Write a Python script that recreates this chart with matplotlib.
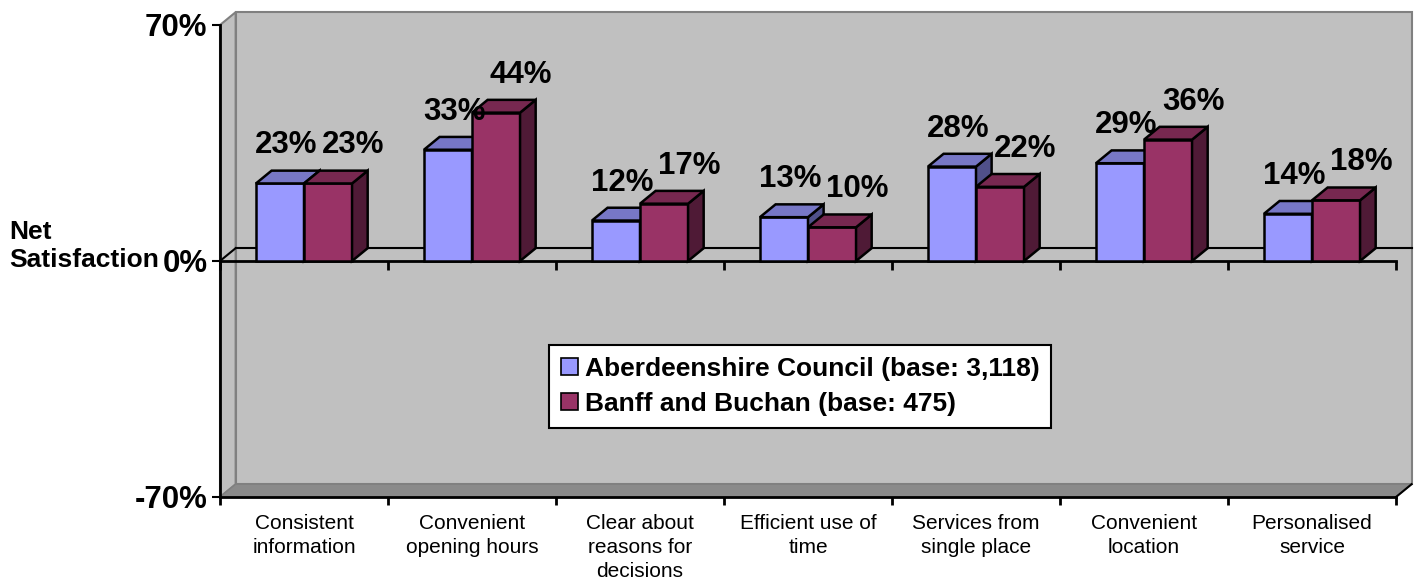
import matplotlib
matplotlib.use("Agg")
import matplotlib.pyplot as plt
from matplotlib.patches import Polygon, Patch
import numpy as np

plt.rcParams['font.family'] = ['Liberation Sans', 'DejaVu Sans']

categories = ["Consistent\ninformation", "Convenient\nopening hours",
              "Clear about\nreasons for\ndecisions", "Efficient use of\ntime",
              "Services from\nsingle place", "Convenient\nlocation",
              "Personalised\nservice"]
aberdeenshire = [23, 33, 12, 13, 28, 29, 14]
banff_buchan = [23, 44, 17, 10, 22, 36, 18]
series_names = ["Aberdeenshire Council (base: 3,118)", "Banff and Buchan (base: 475)"]
y_ticks = [-70, 0, 70]
y_tick_labels = ["-70%", "0%", "70%"]

front_colors = ["#9999ff", "#993366"]
top_colors = ["#7777c6", "#772850"]
side_colors = ["#50508a", "#4f1a36"]
wall = "#c0c0c0"
wall_edge = "#808080"
floor_col = "#8a8a8a"

fig = plt.figure(figsize=(14.22, 5.86), dpi=100)
ax = fig.add_axes([220 / 1422, 89 / 586, 1176 / 1422, 472 / 586])
ymin, ymax = -70, 70
ncat = len(categories)
ax.set_xlim(0, ncat)
ax.set_ylim(ymin, ymax)
ax.patch.set_visible(False)

# depth offset of the 3-D projection, in data units
dx, dy = 0.093, 3.8
bw = 0.286

# walls and floor
ax.add_patch(Polygon([(dx, ymin + dy), (ncat + dx, ymin + dy), (ncat + dx, ymax + dy), (dx, ymax + dy)],
                     closed=True, fc=wall, ec=wall_edge, lw=1.5, clip_on=False, zorder=0))
ax.add_patch(Polygon([(0, ymin), (dx, ymin + dy), (dx, ymax + dy), (0, ymax)],
                     closed=True, fc=wall, ec=wall_edge, lw=1.5, clip_on=False, zorder=0.5))
ax.add_patch(Polygon([(0, ymin), (ncat, ymin), (ncat + dx, ymin + dy), (dx, ymin + dy)],
                     closed=True, fc=floor_col, ec=wall_edge, lw=1.0, clip_on=False, zorder=0.6))
ax.plot([ncat, ncat + dx], [ymin, ymin + dy], color="black", lw=1.5, clip_on=False, zorder=0.7)

# zero plane
ax.plot([0, dx], [0, dy], color="black", lw=1.5, clip_on=False, zorder=1)
ax.plot([dx, ncat + dx], [dy, dy], color="black", lw=1.5, clip_on=False, zorder=1)
ax.plot([0, ncat], [0, 0], color="black", lw=2, clip_on=False, zorder=1)
ax.vlines(np.arange(ncat + 1), -2.6, 0, color="black", lw=2, clip_on=False, zorder=1)

# bars with top and side faces
x = np.arange(ncat) + 0.5
z = 2
for si, vals in enumerate([aberdeenshire, banff_buchan]):
    lefts = x - bw + si * bw
    for left, v in zip(lefts, vals):
        right = left + bw
        ax.bar(left, v, width=bw, align="edge", color=front_colors[si], edgecolor="black",
               lw=1.8, zorder=z)
        ax.add_patch(Polygon([(right, 0), (right + dx, dy), (right + dx, v + dy), (right, v)],
                             closed=True, fc=side_colors[si], ec="black", lw=1.8, zorder=z + 0.1))
        ax.add_patch(Polygon([(left, v), (left + dx, v + dy), (right + dx, v + dy), (right, v)],
                             closed=True, fc=top_colors[si], ec="black", lw=1.8, zorder=z + 0.2))
    z += 1

# value labels
label_dx = [0.036, 0.15]
for si, vals in enumerate([aberdeenshire, banff_buchan]):
    centers = x - bw / 2 + si * bw
    for c, v in zip(centers, vals):
        ax.text(c + label_dx[si], v + 8.9, f"{v}%", ha="center", va="baseline",
                fontsize=22.5, fontweight="bold", zorder=10)

# axes
for s in ["top", "right"]:
    ax.spines[s].set_visible(False)
ax.spines["left"].set_linewidth(2)
ax.spines["bottom"].set_linewidth(2)
ax.spines["left"].set_zorder(1)
ax.spines["bottom"].set_zorder(1)
ax.set_yticks(y_ticks)
ax.set_yticklabels(y_tick_labels, fontsize=22.5, fontweight="bold")
ax.tick_params(axis="y", length=6, width=1.5, pad=3)
ax.set_xticks(np.arange(ncat + 1))
ax.set_xticklabels([])
ax.tick_params(axis="x", which="major", length=6, width=2)
ax.set_xticks(x, minor=True)
ax.set_xticklabels(categories, minor=True, fontsize=15, linespacing=1.35)
ax.tick_params(axis="x", which="minor", length=0, pad=12)

fig.text(9 / 1422, 1 - 246 / 586, "Net\nSatisfaction", ha="left", va="center",
         fontsize=19, fontweight="bold", linespacing=1.2)

handles = [Patch(fc=front_colors[i], ec="black", lw=1.2, label=series_names[i]) for i in range(2)]
leg = ax.legend(handles=handles, loc="upper left", bbox_to_anchor=(549 / 1422, 1 - 345 / 586),
                bbox_transform=fig.transFigure, borderaxespad=0, fancybox=False, framealpha=1,
                edgecolor="black", prop={"size": 19, "weight": "bold"}, handlelength=0.65,
                handleheight=0.65, handletextpad=0.25, labelspacing=0.42, borderpad=0.45)
leg.get_frame().set_linewidth(1.5)
leg.set_zorder(20)

fig.savefig("out.png", dpi=100)
